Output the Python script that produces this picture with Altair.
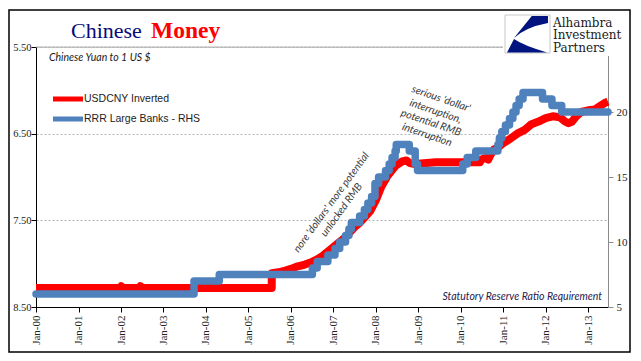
import altair as alt
import pandas as pd

# ---------------- data ----------------
red_dates = ["2000-01-01", "2001-12-25", "2002-01-03", "2002-01-10", "2002-06-10", "2002-06-17",
             "2002-06-24", "2005-07-20", "2005-07-21", "2005-09-15", "2005-11-15", "2006-01-01",
             "2006-03-01", "2006-05-01", "2006-07-01", "2006-08-15", "2006-10-01", "2006-11-15",
             "2007-01-01", "2007-02-15", "2007-04-01", "2007-05-15", "2007-07-01", "2007-08-15",
             "2007-10-01", "2007-11-15", "2008-01-01", "2008-02-15", "2008-04-10", "2008-06-20",
             "2008-08-15", "2008-09-20", "2008-10-20", "2008-12-01", "2009-06-01", "2010-06-15",
             "2010-06-21", "2010-08-01", "2010-08-25", "2010-09-15", "2010-10-15", "2010-11-15",
             "2011-01-01", "2011-03-01", "2011-05-01", "2011-07-01", "2011-09-01", "2011-11-01",
             "2012-01-01", "2012-03-01", "2012-05-01", "2012-06-15", "2012-07-15", "2012-08-15",
             "2012-09-20", "2012-11-01", "2013-01-01", "2013-03-01", "2013-04-15", "2013-06-01",
             "2013-06-20"]
red_values = [8.28, 8.28, 8.26, 8.28, 8.28, 8.26,
              8.28, 8.28, 8.11, 8.10, 8.08, 8.06,
              8.03, 8.01, 7.98, 7.95, 7.91, 7.86,
              7.81, 7.76, 7.71, 7.65, 7.58, 7.53,
              7.46, 7.39, 7.27, 7.12, 6.99, 6.87,
              6.82, 6.81, 6.84, 6.85, 6.83, 6.83,
              6.80, 6.78, 6.80, 6.74, 6.68, 6.66,
              6.61, 6.56, 6.50, 6.46, 6.39, 6.36,
              6.32, 6.30, 6.31, 6.36, 6.38, 6.36,
              6.30, 6.25, 6.23, 6.22, 6.18, 6.14,
              6.13]

rrr_dates = ["2000-01-01", "2003-09-21", "2004-04-25", "2006-07-05", "2006-08-15", "2006-11-15",
             "2007-01-15", "2007-02-25", "2007-04-16", "2007-05-15", "2007-06-05", "2007-08-15",
             "2007-09-25", "2007-10-25", "2007-11-26", "2007-12-25", "2008-01-25", "2008-03-25",
             "2008-04-25", "2008-05-20", "2008-06-15", "2008-06-25", "2008-10-15", "2008-12-05",
             "2008-12-25", "2010-01-18", "2010-02-25", "2010-05-10", "2010-11-16", "2010-11-29",
             "2010-12-20", "2011-01-20", "2011-02-24", "2011-03-25", "2011-04-21", "2011-05-18",
             "2011-06-20", "2011-12-05", "2012-02-24", "2012-05-18", "2013-06-20"]
rrr_values = [6, 7, 7.5, 8, 8.5, 9,
              9.5, 10, 10.5, 11, 11.5, 12,
              12.5, 13, 13.5, 14.5, 15, 15.5,
              16, 16.5, 17, 17.5, 17, 16,
              15.5, 16, 16.5, 17, 17.5, 18,
              18.5, 19, 19.5, 20, 20.5, 21,
              21.5, 21, 20.5, 20, 20]

year_ticks = list(range(2000, 2014))
left_ticks = [5.5, 6.5, 7.5, 8.5]
right_ticks = [5, 10, 15, 20]

series_names = ["USDCNY Inverted", "RRR Large Banks - RHS"]
series_colors = ["#FF0000", "#4F81BD"]

red_df = pd.DataFrame({"date": pd.to_datetime(red_dates), "value": red_values})
rrr_df = pd.DataFrame({"date": pd.to_datetime(rrr_dates), "value": rrr_values})

SERIF = "Liberation Serif"
SANS = "Liberation Sans"
ITAL = "Lato"

# plot area starts 3px right of the reference's (room for the left tick labels)
DX = -3

x_enc = alt.X(
    "date:T",
    title=None,
    scale=alt.Scale(domain=[alt.DateTime(year=2000, month=1, date=1),
                            alt.DateTime(year=2013, month=6, date=20)]),
    axis=alt.Axis(values=[alt.DateTime(year=y, month=1, date=1) for y in year_ticks],
                  format="%b-%y", labelAngle=270, labelFont=SERIF, labelFontSize=11,
                  labelColor="#222222", domainColor="#000000", tickColor="#000000",
                  tickSize=5, labelPadding=3, grid=False, labelOverlap=False),
)

red_line = alt.Chart(red_df).mark_line(
    color=series_colors[0], strokeWidth=8, strokeJoin="round", strokeCap="butt"
).encode(
    x=x_enc,
    y=alt.Y("value:Q", title=None,
            scale=alt.Scale(domain=[5.5, 8.5], reverse=True, nice=False, zero=False),
            axis=alt.Axis(orient="left", values=left_ticks, format=".2f", labelFont=SERIF,
                          labelFontSize=10.5, labelColor="#222222", domainColor="#000000",
                          tickColor="#000000", tickSize=5, labelPadding=0,
                          grid=True, gridDash=[2, 2], gridColor="#b4b4b4")),
)

blue_line = alt.Chart(rrr_df).mark_line(
    color=series_colors[1], strokeWidth=7.5, interpolate="step-after",
    strokeJoin="round", strokeCap="round"
).encode(
    x=alt.X("date:T"),
    y=alt.Y("value:Q", title=None,
            scale=alt.Scale(domain=[5, 25], nice=False, zero=False),
            axis=alt.Axis(orient="right", values=right_ticks, labelFont=SERIF,
                          labelFontSize=11, labelColor="#222222", domainColor="#8c8c8c",
                          tickColor="#8c8c8c", tickSize=5, labelPadding=3, grid=False)),
)

one = pd.DataFrame({"k": [0]})
base = alt.Chart(one)

border = base.mark_rect(fill=None, stroke="#000000", strokeWidth=1.5).encode(
    x=alt.value(-27), x2=alt.value(594), y=alt.value(-37), y2=alt.value(305))

top_line = base.mark_rule(color="#b0b0b0", strokeWidth=1).encode(
    x=alt.value(0), x2=alt.value(469), y=alt.value(0))

title_a = base.mark_text(text="Chinese", font=SERIF, fontSize=22, color="#0A0A78",
                         align="left", baseline="alphabetic").encode(
    x=alt.value(38 + DX), y=alt.value(-9))
title_b = base.mark_text(text="Money", font=SERIF, fontSize=23.5, fontWeight="bold",
                         color="#FF0000", align="left", baseline="alphabetic").encode(
    x=alt.value(118 + DX), y=alt.value(-9))

subtitle = base.mark_text(text="Chinese Yuan to 1 US $", font=ITAL, fontStyle="italic",
                          fontSize=10.5, color="#1a1a1a", align="left",
                          baseline="middle").encode(x=alt.value(16 + DX), y=alt.value(11))

leg_red = base.mark_rule(color=series_colors[0], strokeWidth=5).encode(
    x=alt.value(20 + DX), x2=alt.value(50 + DX), y=alt.value(52))
leg_blue = base.mark_rule(color=series_colors[1], strokeWidth=5).encode(
    x=alt.value(20 + DX), x2=alt.value(50 + DX), y=alt.value(72))
leg_red_t = base.mark_text(text=series_names[0], font=SANS, fontSize=10.5, color="#222222",
                           align="left", baseline="middle").encode(
    x=alt.value(51 + DX), y=alt.value(52))
leg_blue_t = base.mark_text(text=series_names[1], font=SANS, fontSize=10.5, color="#222222",
                            align="left", baseline="middle").encode(
    x=alt.value(51 + DX), y=alt.value(72))

stat = base.mark_text(text="Statutory Reserve Ratio Requirement", font=ITAL, fontStyle="italic",
                      fontSize=10.5, color="#1F2050", align="right",
                      baseline="middle").encode(x=alt.value(569 + DX), y=alt.value(250))

ann_style = dict(font=ITAL, fontStyle="italic", fontSize=10.5, color="#3a3a3a",
                 align="center", baseline="middle")
ann1a = base.mark_text(text="nore 'dollars' more potential", angle=306, **ann_style).encode(
    x=alt.value(298.5 + DX), y=alt.value(155.5))
ann1b = base.mark_text(text="unlocked RMB", angle=306, **ann_style).encode(
    x=alt.value(308.7 + DX), y=alt.value(163))
ann2 = [
    base.mark_text(text=t, angle=19, **ann_style).encode(x=alt.value(px + DX), y=alt.value(py))
    for t, px, py in [("serious 'dollar'", 408, 52), ("interruption,", 402.5, 64.5),
                      ("potential RMB", 398, 76), ("interruption", 394, 88)]
]

logo_bg = base.mark_rect(fill="#ffffff", stroke=None).encode(
    x=alt.value(467), x2=alt.value(593), y=alt.value(-34), y2=alt.value(9))
logo_box = base.mark_rect(fill="#ffffff", stroke="#c8c8c8", strokeWidth=1).encode(
    x=alt.value(469), x2=alt.value(514), y=alt.value(-32), y2=alt.value(6))
logo_shape = base.mark_point(
    shape="M0.19,-0.8 L0.91,-0.8 L0.91,-0.49 Q-0.1,-0.3 -0.6,0.18 Z "
          "M-0.6,0.22 L-0.91,0.82 L0.87,0.82 Q-0.2,0.5 -0.6,0.22 Z",
    filled=True, fill="#00137F", stroke=None, size=45 * 45, opacity=1
).encode(x=alt.value(491.5), y=alt.value(-13))
logo_txt = base.mark_text(
    text=["Alhambra", "Investment", "Partners"], font="DejaVu Serif", fontSize=12,
    lineHeight=12.5, color="#1a1a1a", align="left", baseline="alphabetic"
).encode(x=alt.value(517), y=alt.value(-20.5))

chart = alt.layer(
    border, top_line, red_line, blue_line,
    title_a, title_b, subtitle, leg_red, leg_blue, leg_red_t, leg_blue_t, stat,
    ann1a, ann1b, *ann2, logo_bg, logo_box, logo_shape, logo_txt
).resolve_scale(y="independent").properties(
    width=572, height=260,
    autosize=alt.AutoSizeParams(type="none"),
    padding={"left": 28, "top": 39, "right": 25, "bottom": 46},
).configure_view(stroke=None).configure(background="#ffffff")

chart.save("out.html", embed_options={"renderer": "svg", "actions": False})
